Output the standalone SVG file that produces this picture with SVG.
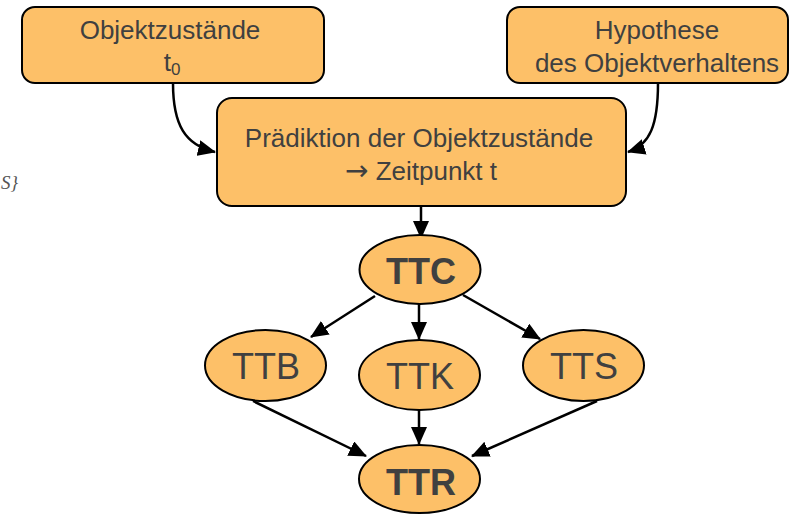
<svg xmlns="http://www.w3.org/2000/svg" width="796" height="514" viewBox="0 0 796 514">
<defs>
<style>
.box{fill:#FDC068;stroke:#000;stroke-width:2}
.t{font-family:"Liberation Sans",Arial,sans-serif;font-size:26px;fill:#404040;text-anchor:middle}
.e{font-family:"Liberation Sans",Arial,sans-serif;font-size:36px;fill:#404040;text-anchor:middle}
.b{font-weight:bold}
.c{fill:none;stroke:#000;stroke-width:2.5}
</style>
<marker id="ah" markerUnits="userSpaceOnUse" markerWidth="18" markerHeight="16" viewBox="0 0 18 16" refX="17" refY="8" orient="auto">
<path d="M0,0 L18,8 L0,16 Z" fill="#000"/>
</marker>
</defs>
<rect width="796" height="514" fill="#fff"/>
<text x="1" y="189" font-family="Liberation Serif,serif" font-style="italic" font-size="19" fill="#555">S}</text>
<g id="connectors">
<path class="c" d="M173,83 C173,125 185,145 215,152" marker-end="url(#ah)"/>
<path class="c" d="M658,83 C658,125 650,145 628,152" marker-end="url(#ah)"/>
<path class="c" d="M421,206 L421,238" marker-end="url(#ah)"/>
<path class="c" d="M375,296 L311,337" marker-end="url(#ah)"/>
<path class="c" d="M419,304 L419,339" marker-end="url(#ah)"/>
<path class="c" d="M463,295 L540,339" marker-end="url(#ah)"/>
<path class="c" d="M253,401 L366,456" marker-end="url(#ah)"/>
<path class="c" d="M419,410 L419,444" marker-end="url(#ah)"/>
<path class="c" d="M597,401 L472,456" marker-end="url(#ah)"/>
</g>
<g id="n-objektzustaende">
<rect class="box" x="22" y="7" width="302" height="76" rx="13"/>
<text class="t" x="170" y="39">Objektzustände</text>
<text class="t" x="172" y="71">t<tspan font-size="17" dy="4">0</tspan></text>
</g>
<g id="n-hypothese">
<rect class="box" x="507" y="7" width="281" height="76" rx="13"/>
<text class="t" x="657" y="39">Hypothese</text>
<text class="t" x="657" y="72">des Objektverhaltens</text>
</g>
<g id="n-praediktion">
<rect class="box" x="217" y="98" width="409" height="108" rx="15"/>
<text class="t" x="419" y="147">Prädiktion der Objektzustände</text>
<text class="t" x="421" y="180"><tspan font-family="DejaVu Sans,sans-serif" font-size="28">→</tspan> Zeitpunkt t</text>
</g>
<g id="n-ttc">
<ellipse class="box" cx="420" cy="269.5" rx="60.5" ry="34.5"/>
<text class="e b" x="421" y="284">TTC</text>
</g>
<g id="n-ttb">
<ellipse class="box" cx="265.5" cy="365.5" rx="60.5" ry="35.5"/>
<text class="e" x="266" y="379">TTB</text>
</g>
<g id="n-ttk">
<ellipse class="box" cx="419.5" cy="375" rx="60.5" ry="35"/>
<text class="e" x="420" y="389">TTK</text>
</g>
<g id="n-tts">
<ellipse class="box" cx="583.5" cy="365.5" rx="60.5" ry="35.5"/>
<text class="e" x="584" y="379">TTS</text>
</g>
<g id="n-ttr">
<ellipse class="box" cx="419.5" cy="479" rx="60.5" ry="34"/>
<text class="e b" x="421" y="495">TTR</text>
</g>
</svg>
